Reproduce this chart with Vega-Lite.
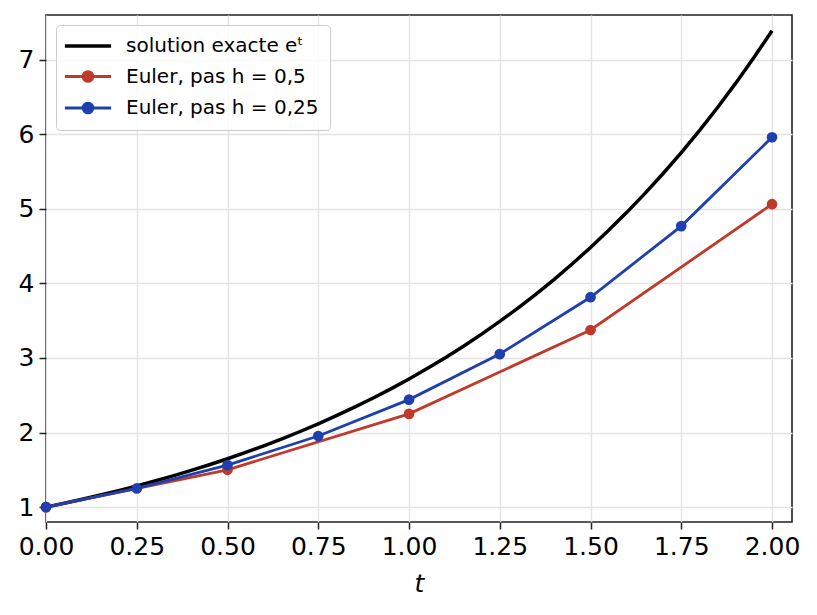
{
  "$schema": "https://vega.github.io/schema/vega-lite/v6.json",
  "width": 746,
  "height": 507,
  "autosize": "none",
  "padding": {"left": 46, "top": 15, "right": 25, "bottom": 93},
  "background": "white",
  "data": {
    "values": [
      {"t": 0.00, "y": 1.0000, "serie": "solution exacte eᵗ"},
      {"t": 0.05, "y": 1.0513, "serie": "solution exacte eᵗ"},
      {"t": 0.10, "y": 1.1052, "serie": "solution exacte eᵗ"},
      {"t": 0.15, "y": 1.1618, "serie": "solution exacte eᵗ"},
      {"t": 0.20, "y": 1.2214, "serie": "solution exacte eᵗ"},
      {"t": 0.25, "y": 1.2840, "serie": "solution exacte eᵗ"},
      {"t": 0.30, "y": 1.3499, "serie": "solution exacte eᵗ"},
      {"t": 0.35, "y": 1.4191, "serie": "solution exacte eᵗ"},
      {"t": 0.40, "y": 1.4918, "serie": "solution exacte eᵗ"},
      {"t": 0.45, "y": 1.5683, "serie": "solution exacte eᵗ"},
      {"t": 0.50, "y": 1.6487, "serie": "solution exacte eᵗ"},
      {"t": 0.55, "y": 1.7333, "serie": "solution exacte eᵗ"},
      {"t": 0.60, "y": 1.8221, "serie": "solution exacte eᵗ"},
      {"t": 0.65, "y": 1.9155, "serie": "solution exacte eᵗ"},
      {"t": 0.70, "y": 2.0138, "serie": "solution exacte eᵗ"},
      {"t": 0.75, "y": 2.1170, "serie": "solution exacte eᵗ"},
      {"t": 0.80, "y": 2.2255, "serie": "solution exacte eᵗ"},
      {"t": 0.85, "y": 2.3396, "serie": "solution exacte eᵗ"},
      {"t": 0.90, "y": 2.4596, "serie": "solution exacte eᵗ"},
      {"t": 0.95, "y": 2.5857, "serie": "solution exacte eᵗ"},
      {"t": 1.00, "y": 2.7183, "serie": "solution exacte eᵗ"},
      {"t": 1.05, "y": 2.8577, "serie": "solution exacte eᵗ"},
      {"t": 1.10, "y": 3.0042, "serie": "solution exacte eᵗ"},
      {"t": 1.15, "y": 3.1582, "serie": "solution exacte eᵗ"},
      {"t": 1.20, "y": 3.3201, "serie": "solution exacte eᵗ"},
      {"t": 1.25, "y": 3.4903, "serie": "solution exacte eᵗ"},
      {"t": 1.30, "y": 3.6693, "serie": "solution exacte eᵗ"},
      {"t": 1.35, "y": 3.8574, "serie": "solution exacte eᵗ"},
      {"t": 1.40, "y": 4.0552, "serie": "solution exacte eᵗ"},
      {"t": 1.45, "y": 4.2631, "serie": "solution exacte eᵗ"},
      {"t": 1.50, "y": 4.4817, "serie": "solution exacte eᵗ"},
      {"t": 1.55, "y": 4.7115, "serie": "solution exacte eᵗ"},
      {"t": 1.60, "y": 4.9530, "serie": "solution exacte eᵗ"},
      {"t": 1.65, "y": 5.2070, "serie": "solution exacte eᵗ"},
      {"t": 1.70, "y": 5.4739, "serie": "solution exacte eᵗ"},
      {"t": 1.75, "y": 5.7546, "serie": "solution exacte eᵗ"},
      {"t": 1.80, "y": 6.0496, "serie": "solution exacte eᵗ"},
      {"t": 1.85, "y": 6.3598, "serie": "solution exacte eᵗ"},
      {"t": 1.90, "y": 6.6859, "serie": "solution exacte eᵗ"},
      {"t": 1.95, "y": 7.0287, "serie": "solution exacte eᵗ"},
      {"t": 2.00, "y": 7.3891, "serie": "solution exacte eᵗ"},
      {"t": 0.0, "y": 1.0, "serie": "Euler, pas h = 0,5"},
      {"t": 0.5, "y": 1.5, "serie": "Euler, pas h = 0,5"},
      {"t": 1.0, "y": 2.25, "serie": "Euler, pas h = 0,5"},
      {"t": 1.5, "y": 3.375, "serie": "Euler, pas h = 0,5"},
      {"t": 2.0, "y": 5.0625, "serie": "Euler, pas h = 0,5"},
      {"t": 0.00, "y": 1.0, "serie": "Euler, pas h = 0,25"},
      {"t": 0.25, "y": 1.25, "serie": "Euler, pas h = 0,25"},
      {"t": 0.50, "y": 1.5625, "serie": "Euler, pas h = 0,25"},
      {"t": 0.75, "y": 1.9531, "serie": "Euler, pas h = 0,25"},
      {"t": 1.00, "y": 2.4414, "serie": "Euler, pas h = 0,25"},
      {"t": 1.25, "y": 3.0518, "serie": "Euler, pas h = 0,25"},
      {"t": 1.50, "y": 3.8147, "serie": "Euler, pas h = 0,25"},
      {"t": 1.75, "y": 4.7684, "serie": "Euler, pas h = 0,25"},
      {"t": 2.00, "y": 5.9605, "serie": "Euler, pas h = 0,25"}
    ]
  },
  "encoding": {
    "x": {
      "field": "t",
      "type": "quantitative",
      "scale": {"domain": [0, 2.055], "nice": false, "zero": false},
      "axis": {
        "title": "t",
        "values": [0, 0.25, 0.5, 0.75, 1, 1.25, 1.5, 1.75, 2],
        "format": ".2f",
        "titleFontStyle": "italic",
        "titlePadding": 12
      }
    },
    "y": {
      "field": "y",
      "type": "quantitative",
      "scale": {"domain": [0.8, 7.6], "nice": false, "zero": false},
      "axis": {"title": null, "values": [1, 2, 3, 4, 5, 6, 7], "format": "d"}
    }
  },
  "layer": [
    {
      "transform": [{"filter": "datum.serie == 'solution exacte eᵗ'"}],
      "mark": {"type": "line", "strokeWidth": 3.5},
      "encoding": {
        "color": {
          "field": "serie",
          "type": "nominal",
          "scale": {
            "domain": ["solution exacte eᵗ", "Euler, pas h = 0,5", "Euler, pas h = 0,25"],
            "range": ["#000000", "#c0392b", "#1f3fae"]
          },
          "legend": {
            "title": null,
            "orient": "top-left",
            "offset": 10,
            "padding": 11,
            "rowPadding": 9.5,
            "symbolSize": 484,
            "symbolOffset": 11,
            "labelOffset": 28,
            "labelLimit": 0,
            "encode": {
              "symbols": {
                "update": {
                  "shape": {"signal": "datum.value == 'solution exacte eᵗ' ? 'M-2.1,0H2.1' : 'M-2.1,0H2.1M0.45,0A0.45,0.45,0,1,1,-0.45,0A0.45,0.45,0,1,1,0.45,0Z'"},
                  "stroke": {"signal": "datum.value == 'solution exacte eᵗ' ? '#000000' : (datum.value == 'Euler, pas h = 0,5' ? '#c0392b' : '#1f3fae')"},
                  "fill": {"signal": "datum.value == 'solution exacte eᵗ' ? 'transparent' : (datum.value == 'Euler, pas h = 0,5' ? '#c0392b' : '#1f3fae')"},
                  "strokeWidth": {"signal": "datum.value == 'solution exacte eᵗ' ? 3.5 : 2.8"},
                  "opacity": {"value": 1}
                }
              }
            }
          }
        }
      }
    },
    {
      "transform": [{"filter": "datum.serie == 'Euler, pas h = 0,5'"}],
      "mark": {"type": "line", "strokeWidth": 2.8},
      "encoding": {"color": {"field": "serie", "type": "nominal"}}
    },
    {
      "transform": [{"filter": "datum.serie == 'Euler, pas h = 0,5'"}],
      "mark": {"type": "point", "filled": true, "size": 115, "opacity": 1},
      "encoding": {
        "fill": {
          "field": "serie",
          "type": "nominal",
          "scale": {"domain": ["Euler, pas h = 0,5", "Euler, pas h = 0,25"], "range": ["#c0392b", "#1f3fae"]},
          "legend": null
        }
      }
    },
    {
      "transform": [{"filter": "datum.serie == 'Euler, pas h = 0,25'"}],
      "mark": {"type": "line", "strokeWidth": 2.8},
      "encoding": {"color": {"field": "serie", "type": "nominal"}}
    },
    {
      "transform": [{"filter": "datum.serie == 'Euler, pas h = 0,25'"}],
      "mark": {"type": "point", "filled": true, "size": 115, "opacity": 1},
      "encoding": {
        "fill": {
          "field": "serie",
          "type": "nominal",
          "scale": {"domain": ["Euler, pas h = 0,5", "Euler, pas h = 0,25"], "range": ["#c0392b", "#1f3fae"]},
          "legend": null
        }
      }
    }
  ],
  "config": {
    "font": "DejaVu Sans",
    "view": {"stroke": "#222222", "strokeWidth": 1.6},
    "axis": {
      "domain": false,
      "grid": true,
      "gridColor": "#e3e3e3",
      "gridWidth": 1.4,
      "ticks": true,
      "tickColor": "#222222",
      "tickSize": 7,
      "tickWidth": 1.5,
      "labelFont": "DejaVu Sans",
      "labelFontSize": 25,
      "labelColor": "#000000",
      "labelPadding": 5,
      "labelFlush": false,
      "labelOverlap": false,
      "titleFont": "DejaVu Sans",
      "titleFontSize": 25,
      "titleFontWeight": "normal",
      "titleColor": "#000000"
    },
    "legend": {
      "labelFont": "DejaVu Sans",
      "labelFontSize": 20,
      "labelColor": "#000000",
      "strokeColor": "#cccccc",
      "fillColor": "rgba(255,255,255,0.85)",
      "cornerRadius": 4
    }
  }
}
